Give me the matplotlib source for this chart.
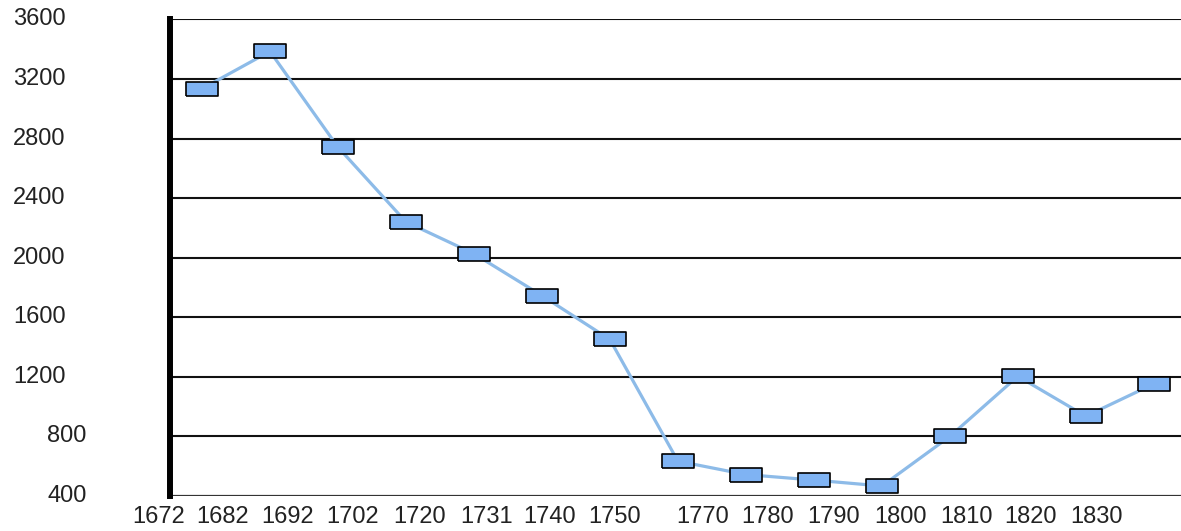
import matplotlib
matplotlib.use("Agg")
import matplotlib.pyplot as plt
import matplotlib.transforms as mtransforms

# ---- data ----
years = ["1672", "1682", "1692", "1702", "1720", "1731", "1740", "1750",
         "1770", "1780", "1790", "1800", "1810", "1820", "1830"]
values = [3135, 3386, 2743, 2241, 2027, 1746, 1451, 634,
          544, 507, 467, 800, 1204, 936, 1153]
ytick_vals = [400, 800, 1200, 1600, 2000, 2400, 2800, 3200, 3600]
ytick_labels = [str(v) for v in ytick_vals]

# ---- layout ----
W, H, DPI = 1181, 531, 100
fig = plt.figure(figsize=(W / DPI, H / DPI), dpi=DPI)
ax_left, ax_bottom, ax_top = 170, 35, 511.5
ax = fig.add_axes([ax_left / W, ax_bottom / H, 1 - ax_left / W, (ax_top - ax_bottom) / H])

x = list(range(len(values)))
ax.set_xlim(-0.47, 14.40)
ax.set_ylim(400, 3600)

# gridlines
for v in ytick_vals[1:]:
    ax.axhline(v, color="#111111", lw=1.5, zorder=1)
ax.axhline(400, color="#333333", lw=1.6, zorder=1)

# series
ax.plot(x, values, color="#8dbbe8", lw=2.3, zorder=2, solid_capstyle="round")
h = 15 / 34
rect = [(-1, -h), (1, -h), (1, h), (-1, h), (-1, -h)]
ax.plot(x, values, linestyle="none", marker=rect, markersize=23.5,
        markerfacecolor="#7fb3f3", markeredgecolor="#000000",
        markeredgewidth=1.2, zorder=3)

# spines
for s in ["top", "right", "bottom"]:
    ax.spines[s].set_visible(False)
ax.spines["left"].set_linewidth(4.3)
ax.spines["left"].set_color("#000000")
ax.set_xticks([])
ax.set_yticks([])

font = dict(family=["Liberation Sans", "DejaVu Sans"], fontsize=17, color="#222222")

# y labels
ytrans = mtransforms.blended_transform_factory(fig.transFigure, ax.transData)
for v, lab in zip(ytick_vals, ytick_labels):
    xpx = 13 if len(lab) == 4 else 47
    ax.text(xpx / W, v, lab, transform=ytrans, ha="left", va="center",
            clip_on=False, **font)

# x labels (positions in pixels as drawn in the reference)
xlabel_px = [159, 223, 288, 353, 420, 487, 550, 615, 703, 768, 834, 901, 966, 1031, 1097]
xtrans = mtransforms.blended_transform_factory(fig.transFigure, fig.transFigure)
for px, lab in zip(xlabel_px, years):
    ax.text(px / W, (H - 517) / H, lab, transform=xtrans, ha="center", va="center",
            clip_on=False, **font)

fig.savefig("out.png", dpi=DPI, facecolor="white")
